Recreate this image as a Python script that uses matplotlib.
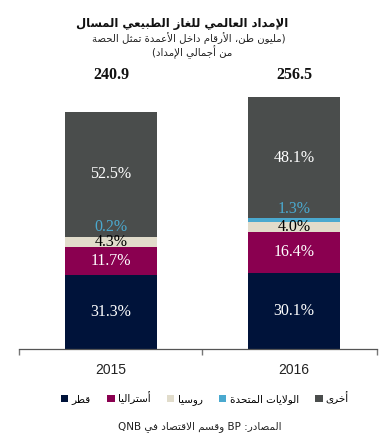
import numpy as np
import matplotlib
matplotlib.use('Agg')
import matplotlib.pyplot as plt
from matplotlib.patches import Patch

years = ['2015', '2016']
totals = [240.9, 256.5]
# shares (%) bottom -> top
qatar = [31.3, 30.1]
australia = [11.7, 16.4]
russia = [4.3, 4.0]
usa = [0.2, 1.3]
other = [52.5, 48.1]

series_names = ['قطر', 'أستراليا', 'روسيا', 'الولايات المتحدة', 'أخرى']
colors = ['#00133a', '#8a0050', '#e1dccb', '#4aa9cf', '#4a4d4c']
label_colors = ['white', 'white', 'black', '#4aa9cf', 'white']

title = 'الإمداد العالمي للغاز الطبيعي المسال'
sub1 = '(مليون طن، الأرقام داخل الأعمدة تمثل الحصة'
sub2 = 'من أجمالي الإمداد)'
source = 'المصادر: BP وقسم الاقتصاد في QNB'

# ---- minimal arabic shaping (matplotlib has no bidi / joining) ----
_DUAL = {'ئ': 0xFE89, 'ب': 0xFE8F, 'ت': 0xFE95, 'ث': 0xFE99, 'ج': 0xFE9D, 'ح': 0xFEA1,
         'خ': 0xFEA5, 'س': 0xFEB1, 'ش': 0xFEB5, 'ص': 0xFEB9, 'ض': 0xFEBD, 'ط': 0xFEC1,
         'ظ': 0xFEC5, 'ع': 0xFEC9, 'غ': 0xFECD, 'ف': 0xFED1, 'ق': 0xFED5, 'ك': 0xFED9,
         'ل': 0xFEDD, 'م': 0xFEE1, 'ن': 0xFEE5, 'ه': 0xFEE9, 'ي': 0xFEF1}
_RIGHT = {'آ': 0xFE81, 'أ': 0xFE83, 'ؤ': 0xFE85, 'إ': 0xFE87, 'ا': 0xFE8D, 'ة': 0xFE93,
          'د': 0xFEA9, 'ذ': 0xFEAB, 'ر': 0xFEAD, 'ز': 0xFEAF, 'و': 0xFEED, 'ى': 0xFEEF}
_LAMALEF = {'آ': 0xFEF5, 'أ': 0xFEF7, 'إ': 0xFEF9, 'ا': 0xFEFB}


def _shape(word):
    out = []
    i = 0
    n = len(word)
    while i < n:
        c = word[i]
        prev = word[i-1] if i > 0 else ''
        pj = prev in _DUAL
        nxt = word[i+1] if i + 1 < n else ''
        if c == 'ل' and nxt in _LAMALEF:
            out.append(chr(_LAMALEF[nxt] + (1 if pj else 0)))
            i += 2
            continue
        if c in _DUAL:
            nj = nxt in _DUAL or nxt in _RIGHT
            base = _DUAL[c]
            off = 3 if (pj and nj) else 1 if pj else 2 if nj else 0
            out.append(chr(base + off))
        elif c in _RIGHT:
            out.append(chr(_RIGHT[c] + (1 if pj else 0)))
        else:
            out.append(c)
        i += 1
    return ''.join(reversed(out))


def ar(text):
    # right-to-left: reverse word order, shape letters, mirror brackets
    words = []
    for w in text.split(' '):
        if all(ord(ch) < 128 for ch in w):
            words.append(w)
            continue
        pre = ')' if w[0] == '(' else ''
        suf = '(' if w[-1] == ')' else ''
        core = w[len(pre):len(w) - len(suf)]
        words.append(suf + _shape(core) + pre)
    return ' '.join(reversed(words))


AR = ['DejaVu Sans']
SER = ['Liberation Serif', 'DejaVu Serif']

fig = plt.figure(figsize=(3.92, 4.42), dpi=100)
ax = fig.add_axes([19/392, 93/442, 358/392, 285/442])

shares = np.array([qatar, australia, russia, usa, other])
vals = shares / 100.0 * np.array(totals)
x = np.arange(len(years))
bottom = np.zeros(len(years))
for k in range(len(series_names)):
    ax.bar(x, vals[k], 0.5, bottom=bottom, color=colors[k], linewidth=0)
    for j in range(len(years)):
        txt = f'{shares[k, j]:.1f}%'
        if k == 3:
            ax.annotate(txt, (x[j], bottom[j] + vals[k, j]), xytext=(0, 1),
                        textcoords='offset points', ha='center', va='bottom',
                        color=label_colors[k], fontsize=11.5, family=SER)
        else:
            ax.text(x[j], bottom[j] + vals[k, j] / 2, txt, ha='center', va='center',
                    color=label_colors[k], fontsize=11.5, family=SER)
    bottom += vals[k]

for j in range(len(years)):
    ax.text(x[j], 279, f'{totals[j]:.1f}', ha='center', va='center',
            fontsize=11.5, fontweight='bold', family=SER, color='#111111')

ax.set_xlim(-0.503, 1.454)
ax.set_ylim(0, 290)
for s in ['top', 'right', 'left']:
    ax.spines[s].set_visible(False)
ax.spines['bottom'].set_color('#555555')
ax.spines['bottom'].set_linewidth(0.9)
ax.set_yticks([])
ax.set_xticks([-0.503, 0.5, 1.454])
ax.set_xticklabels([])
ax.tick_params(axis='x', which='major', length=4, direction='out', color='#777777', width=1)
ax.set_xticks(x, minor=True)
ax.set_xticklabels(years, minor=True, fontsize=10, family=['Liberation Sans'], color='#222222')
ax.tick_params(axis='x', which='minor', length=0, pad=10)

fig.text(0.465, 1 - 23/442, ar(title), ha='center', va='center', fontsize=8.4,
         fontweight='bold', family=AR, color='#111111')
fig.text(0.482, 1 - 38/442, ar(sub1), ha='center', va='center', fontsize=7.3, family=AR, color='#222222')
fig.text(0.49, 1 - 52/442, ar(sub2), ha='center', va='center', fontsize=7.3, family=AR, color='#222222')

handles = [Patch(facecolor=colors[k], edgecolor='none') for k in range(len(series_names))]
fig.legend(handles, [ar(n) for n in series_names], loc='center', ncol=5,
           bbox_to_anchor=(205/392, 1 - 398/442), frameon=False,
           prop={'family': AR, 'size': 7.5}, handlelength=0.7, handleheight=0.7,
           handletextpad=0.3, columnspacing=1.6)

fig.text(200/392, 1 - 427/442, ar(source), ha='center', va='center', fontsize=7.5,
         family=AR, color='#222222')

fig.savefig('out.png', dpi=100)
